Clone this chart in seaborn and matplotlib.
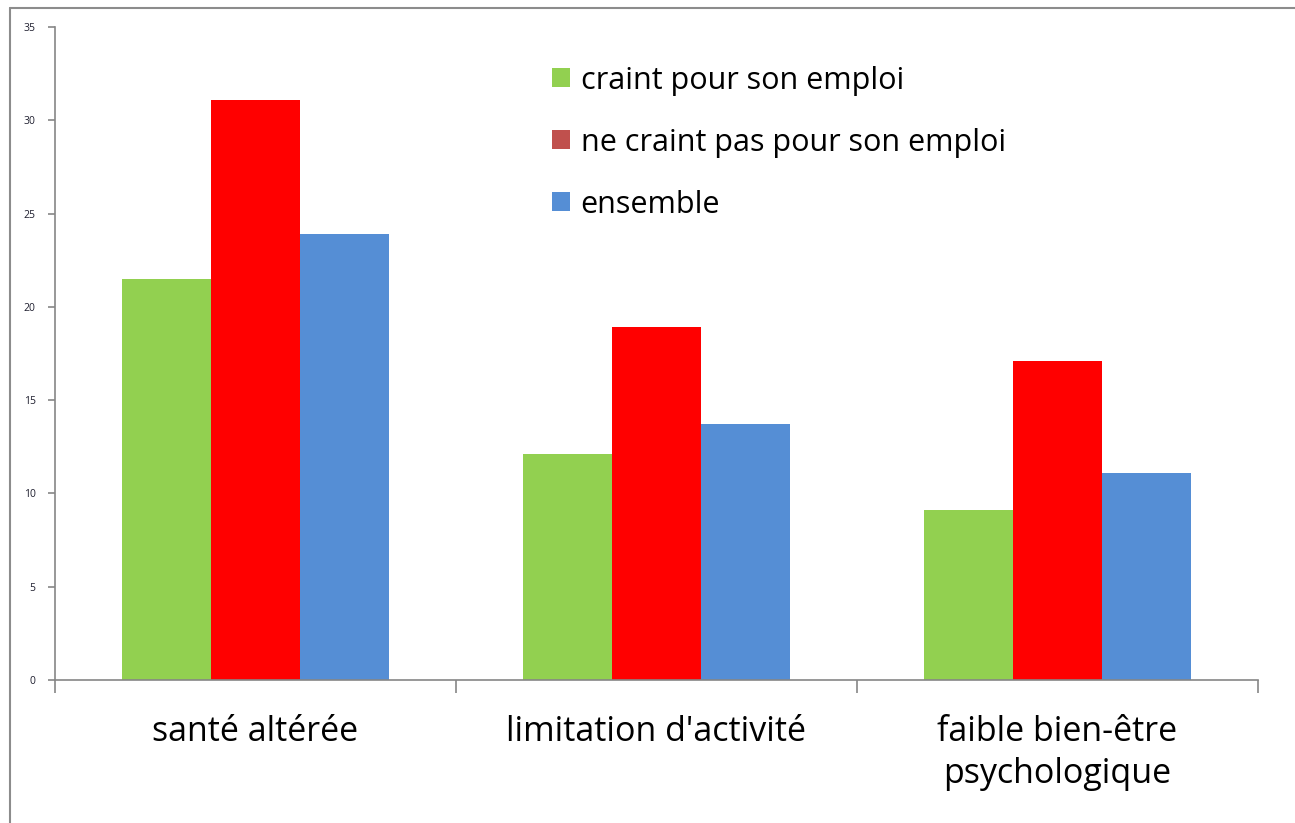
import matplotlib
matplotlib.use("Agg")
import matplotlib.pyplot as plt
import seaborn as sns
import pandas as pd
from matplotlib.patches import Patch
from matplotlib.lines import Line2D

categories = ["santé altérée", "limitation d'activité", "faible bien-être\npsychologique"]
series = ["craint pour son emploi", "ne craint pas pour son emploi", "ensemble"]
craint = [21.5, 12.1, 9.1]
ne_craint = [31.1, 18.9, 17.1]
ensemble = [23.9, 13.7, 11.1]
yticks = [0, 5, 10, 15, 20, 25, 30, 35]

bar_colors = ["#92d050", "#ff0000", "#558ed5"]
legend_colors = ["#92d050", "#c0504d", "#558ed5"]

rows = []
for s, vals in zip(series, [craint, ne_craint, ensemble]):
    for c, v in zip(categories, vals):
        rows.append({"cat": c, "serie": s, "val": v})
df = pd.DataFrame(rows)

sns.set_theme(style="white")
plt.rcParams['font.family'] = ['Open Sans', 'DejaVu Sans']
plt.rcParams['text.color'] = 'black'

fig = plt.figure(figsize=(12.95, 8.23), dpi=100)
ax = fig.add_axes([55/1295, 1-680/823, (1258-55)/1295, (680-27)/823])

sns.barplot(data=df, x="cat", y="val", hue="serie", order=categories,
            hue_order=series, palette=bar_colors, width=267/401,
            saturation=1, ax=ax, legend=False, linewidth=0)

axis_gray = "#868686"
ax.set_ylim(0, 35)
ax.set_xlim(-0.5, 2.5)
ax.set_yticks(yticks)
ax.set_yticklabels([str(t) for t in yticks], fontsize=7.5, color="#1f1f2f")
ax.set_xticks([0, 1, 2])
ax.set_xticklabels(categories, fontsize=24.5, color="black", linespacing=1.3)
ax.set_xticks([-0.5, 0.5, 1.5, 2.5], minor=True)
ax.tick_params(axis="x", which="both", bottom=True)
ax.tick_params(axis="y", which="both", left=True)
ax.tick_params(axis="x", which="major", length=0, pad=25)
ax.tick_params(axis="x", which="minor", length=9, width=1.2, color=axis_gray, direction="out")
ax.tick_params(axis="y", which="major", length=5, width=1.2, color=axis_gray, direction="out", pad=9)
ax.set_xlabel("")
ax.set_ylabel("")
for side in ["top", "right"]:
    ax.spines[side].set_visible(False)
for side in ["left", "bottom"]:
    ax.spines[side].set_color(axis_gray)
    ax.spines[side].set_linewidth(1.2)

handles = [Patch(facecolor=c, edgecolor="none", label=s) for c, s in zip(legend_colors, series)]
leg = fig.legend(handles=handles, loc="upper left", bbox_to_anchor=(524/1295, 1-38/823),
                 frameon=False, fontsize=22, handlelength=0.59, handleheight=0.59,
                 handletextpad=0.36, labelspacing=1.05, labelcolor="black")

# chart area border
fig.add_artist(Line2D([10/1295, 10/1295], [0, 1-8/823], color="#8c8c8c", lw=1.5, transform=fig.transFigure))
fig.add_artist(Line2D([10/1295, 1], [1-8/823, 1-8/823], color="#8c8c8c", lw=1.5, transform=fig.transFigure))

fig.savefig("out.png", dpi=100, facecolor="white")
